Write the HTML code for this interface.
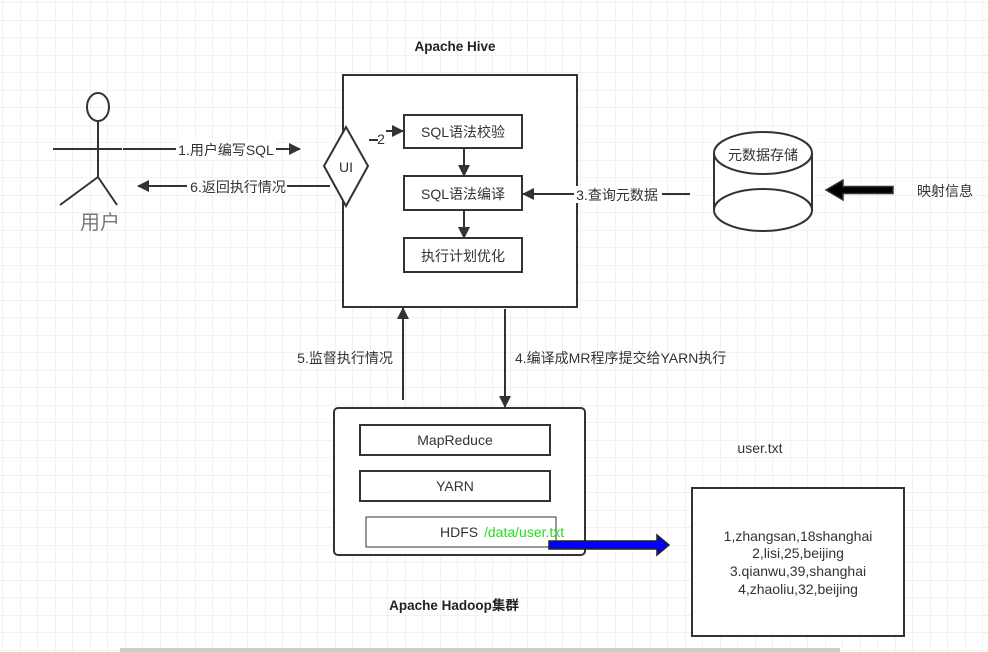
<!DOCTYPE html>
<html><head><meta charset="utf-8"><style>
html,body{margin:0;padding:0;background:#fff;}
svg{display:block;font-family:"Liberation Sans","Noto Sans CJK SC",sans-serif;}
</style></head><body>
<svg width="988" height="652" viewBox="0 0 988 652" xmlns="http://www.w3.org/2000/svg">
<defs>
<pattern id="g" x="3" y="3" width="17.5" height="17.5" patternUnits="userSpaceOnUse">
<path d="M17.5 0V17.5M0 17.5H17.5" stroke="#e4e4e4" stroke-width="1" fill="none"/>
</pattern>
<marker id="a" markerWidth="12" markerHeight="12" refX="11" refY="6" orient="auto" markerUnits="userSpaceOnUse">
<path d="M0,0 L12,6 L0,12 Z" fill="#333"/>
</marker>
</defs>
<rect width="988" height="652" fill="url(#g)"/>
<g fill="none" stroke="#333" stroke-width="2">
<rect x="343" y="75" width="234" height="232" fill="#fff"/>
<ellipse cx="98" cy="107" rx="11" ry="14"/>
<path d="M98 121V177M53 149H122M98 177L60 205M98 177L117 205"/>
<path d="M123 149H300" marker-end="url(#a)"/>
<path d="M330 186H138" marker-end="url(#a)"/>
<path d="M346 127L368 166L346 206L324 166Z" fill="#fff"/>
<path d="M369 140H378"/>
<path d="M386 131H403" marker-end="url(#a)"/>
<rect x="404" y="115" width="118" height="33" fill="#fff"/>
<rect x="404" y="176" width="118" height="34" fill="#fff"/>
<rect x="404" y="238" width="118" height="34" fill="#fff"/>
<path d="M464 148V176" marker-end="url(#a)"/>
<path d="M464 210V238" marker-end="url(#a)"/>
<path d="M690 194H523" marker-end="url(#a)"/>
<path d="M714 153V210A49 21 0 0 0 812 210V153" fill="#fff"/>
<ellipse cx="763" cy="153" rx="49" ry="21" fill="#fff"/>
<path d="M714 210A49 21 0 0 1 812 210"/>
<path d="M403 400V308" marker-end="url(#a)"/>
<path d="M505 309V407" marker-end="url(#a)"/>
<rect x="334" y="408" width="251" height="147" rx="4" fill="#fff"/>
<rect x="360" y="425" width="190" height="30" fill="#fff"/>
<rect x="360" y="471" width="190" height="30" fill="#fff"/>
<rect x="366" y="517" width="190" height="30" fill="#fff" stroke-width="1"/>
<rect x="692" y="488" width="212" height="148" fill="#fff"/>
</g>
<path d="M893 186.5H843V180L826 190L843 200V193.5H893Z" fill="#000" stroke="#333" stroke-width="1.5"/>
<path d="M549 541H657V535L669 545L657 555V549H549Z" fill="#00f" stroke="#222" stroke-width="1.5"/>
<g font-size="14" fill="#333">
<text x="455" y="51" text-anchor="middle" font-weight="bold" fill="#222" font-size="13.5">Apache Hive</text>
<text x="454" y="610" text-anchor="middle" font-weight="bold" fill="#222" font-size="13.5">Apache Hadoop集群</text>
<text x="100" y="229" text-anchor="middle" font-size="20" fill="#777">用户</text>
<rect x="176" y="141" width="100" height="17" fill="#fff"/>
<text x="226" y="155" text-anchor="middle">1.用户编写SQL</text>
<rect x="187" y="178" width="100" height="17" fill="#fff"/>
<text x="238" y="192" text-anchor="middle">6.返回执行情况</text>
<text x="346" y="172" text-anchor="middle">UI</text>
<text x="381" y="144" text-anchor="middle">2</text>
<text x="463" y="137" text-anchor="middle">SQL语法校验</text>
<text x="463" y="199" text-anchor="middle">SQL语法编译</text>
<text x="463" y="261" text-anchor="middle">执行计划优化</text>
<rect x="574" y="186" width="88" height="17" fill="#fff"/>
<text x="617" y="200" text-anchor="middle">3.查询元数据</text>
<text x="763" y="160" text-anchor="middle">元数据存储</text>
<text x="945" y="196" text-anchor="middle">映射信息</text>
<text x="345" y="363" text-anchor="middle">5.监督执行情况</text>
<text x="515" y="363">4.编译成MR程序提交给YARN执行</text>
<text x="455" y="445" text-anchor="middle">MapReduce</text>
<text x="455" y="491" text-anchor="middle">YARN</text>
<text x="440" y="537">HDFS</text>
<text x="484" y="537" fill="#22dd22">/data/user.txt</text>
<text x="760" y="453" text-anchor="middle">user.txt</text>
<text x="798" y="541" text-anchor="middle">1,zhangsan,18shanghai</text>
<text x="798" y="558" text-anchor="middle">2,lisi,25,beijing</text>
<text x="798" y="576" text-anchor="middle">3.qianwu,39,shanghai</text>
<text x="798" y="594" text-anchor="middle">4,zhaoliu,32,beijing</text>
</g>
<rect x="120" y="648" width="720" height="4" fill="#ccc"/>
</svg>
</body></html>
